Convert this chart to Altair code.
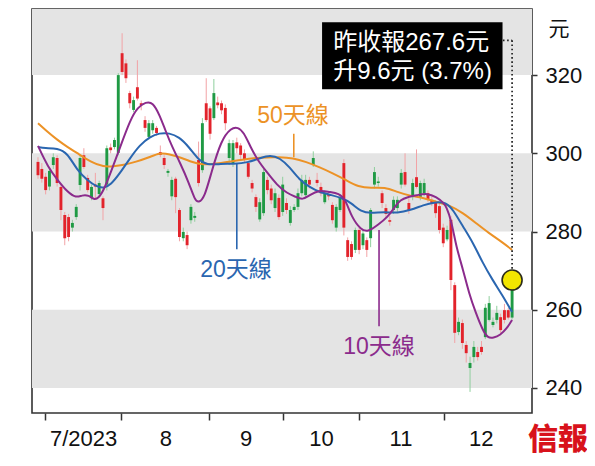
import altair as alt
import pandas as pd

# ---------------- data ----------------
opens = [297.8, 296, 294, 291.5, 297, 298.8, 291.4, 284.2, 283.7, 281, 283.7, 291.9, 299.5, 293.7, 288.8, 292, 289.6, 288.5, 292, 301.5,
         301.6, 300.1, 325.6, 323, 315.4, 311.1, 316.9, 312.8, 308.5, 304.2, 305.9, 306.5, 300.3, 298.8, 295, 289, 293.5, 285.5, 278.3, 279.1,
         282.9, 283.5, 298.3, 295.7, 312.8, 311.5, 309, 313, 312.8, 311.6, 298.8, 297.5, 302.8, 302, 300, 297.5, 292.4, 288.8, 283.1, 284.7,
         293.2, 291, 286, 288.6, 285, 287.3, 282.2, 285.5, 286.3, 289.8, 289.3, 293.2, 297, 293.2, 291.4, 287.5, 289.3, 286.8, 281, 285.5,
         297.5, 277.8, 276.8, 275.3, 280.4, 276.5, 277.8, 278.3, 292, 292.4, 289.8, 286, 282.9, 285.5, 286, 292, 295.2, 287.3, 288.8, 293.9,
         288.8, 289.8, 289.8, 288.1, 287.3, 286.5, 281, 278, 283, 266.3, 254.3, 256.6, 251, 245.1, 247.9, 249.2, 250.5, 253, 257.4, 256.1,
         257.4, 258.1, 259.9, 259.9, 258]
closes = [294.4, 293.5, 290.6, 295.5, 299, 292.4, 285.5, 278.3, 278.6, 282.2, 286.3, 298.8, 296.5, 290.6, 291.4, 291.5, 292.4, 286, 301.3, 300.8,
          303.4, 320, 320.8, 319.2, 312.8, 313.6, 314, 312.3, 306.5, 307.7, 307.7, 305.2, 299.6, 297, 295.5, 293.2, 288.8, 278.6, 279.9, 276.5,
          286.3, 284, 292.4, 307.7, 308.5, 305, 315.4, 312.3, 311, 307.7, 302.6, 302.6, 301.3, 299.6, 298.3, 294, 291, 286.3, 287.5, 295.2,
          290.6, 288, 289.8, 283.7, 292, 285.5, 285.5, 286.3, 289.8, 293.2, 293.2, 292, 298.8, 292.4, 289.8, 289.8, 289, 282.9, 286.3, 288.8,
          281, 273.5, 273.5, 280.4, 275.3, 279.5, 275.3, 285.5, 295.2, 292.8, 287.3, 284.5, 282.5, 288.1, 288.1, 295, 292, 285.5, 292.4, 291.4,
          292.4, 292.4, 288.1, 287.3, 284.7, 280.4, 277, 280.4, 267.6, 254.1, 256.9, 251.5, 248.9, 246.4, 250.5, 247.9, 249.2, 260.5, 261.7, 256.9,
          259.2, 254.8, 257.4, 258, 267.6]
highs = [299, 297.5, 295, 296.5, 300, 299.5, 292, 285, 284.5, 283, 287, 299.5, 301.3, 294.5, 292, 295, 293, 289, 302, 302.5,
         304, 320.5, 330.7, 324, 316, 314.5, 323.8, 313.5, 309.5, 308.5, 308.5, 307, 302, 299.5, 296, 294, 294, 286, 281, 280,
         287, 285, 303, 309, 319.2, 312, 319, 314.5, 313.5, 312.5, 303.5, 303.4, 304, 302.6, 301, 298, 293.2, 289.5, 288.5, 296,
         294, 292, 291, 289.5, 294, 288.5, 286.5, 287, 291, 294.5, 294.5, 294, 300.5, 295, 292.5, 290.5, 290, 287.5, 287, 289.5,
         298.5, 278.5, 277.5, 281, 281, 280.5, 278.5, 286, 296.5, 294, 290.5, 287, 284, 289, 289, 296, 300, 288.5, 293.5, 301,
         293, 293.5, 290.5, 289, 288, 287.5, 282, 281.5, 284, 267, 258, 257.5, 252, 248, 252, 250.5, 252, 261.5, 263.5, 258,
         261, 259, 261.5, 260.5, 268.9]
lows = [293.5, 292.5, 289.5, 290.5, 296, 291.5, 282.9, 276.5, 277.5, 280, 283, 290.5, 296, 290, 288, 288.5, 289, 282.9, 290.5, 300,
        301, 299.5, 320, 318, 311.5, 310.5, 313.5, 311, 305.5, 303.5, 305, 304.5, 299, 296, 294, 288, 284.7, 277.5, 277.5, 275.5,
        282, 282.5, 291.5, 295, 308, 303.5, 308.5, 311.5, 310, 305.9, 297, 296.5, 300, 298.5, 297.5, 293.5, 290, 285, 282.5, 284,
        289.5, 287, 285, 283, 284, 284.5, 281.5, 285, 285.5, 289, 288.5, 291, 296.5, 291.5, 289, 287, 288, 282, 280, 285,
        279, 272.5, 272.8, 274.5, 274.2, 275.5, 273.5, 276, 291, 291.5, 286, 283.5, 281.5, 284.5, 285, 291, 291.5, 284.5, 288, 291,
        288, 289, 287.5, 286.5, 283.5, 279.5, 276, 277.5, 265, 251.5, 253.5, 250, 246.5, 239, 246.5, 247, 248.5, 252.5, 257, 255.5,
        256.5, 254, 256.5, 257.5, 257.5]

# moving averages (day index, price)
ma10_i = [0, 2.6, 5.1, 7.7, 10.0, 11.5, 13.3, 14.6, 15.9, 17.2, 19.0, 21.5, 24.1, 26.1, 28.2, 30.0, 31.8, 33.3, 35.1, 37.2,
          39.5, 41.0, 42.0, 43.6, 45.3, 47.9, 50.5, 52.3, 53.8, 55.6, 57.4, 60.0, 62.5, 65.1, 67.6, 69.2, 71.0, 73.5, 76.1, 78.7,
          80.5, 82.0, 84.5, 86.3, 88.9, 91.5, 93.3, 94.8, 96.6, 99.2, 101.7, 104.3, 106.1, 106.8, 108.1, 109.4, 111.2, 112.7, 114.5, 116.3,
          117.6, 119.1, 120.9, 122.7, 124.0]
ma10_v = [301.9, 296.5, 293.2, 290.1, 288.6, 289.3, 289.3, 288.1, 288.6, 290.6, 295.0, 301.6, 308.5, 311.8, 313.1, 313.1, 309.8, 305.9, 301.6, 297.5,
          292.4, 288.1, 287.3, 288.8, 295.0, 303.4, 306.5, 306.7, 305.4, 301.6, 298.3, 295.0, 291.9, 289.8, 288.8, 288.1, 289.3, 290.6, 290.1, 289.8,
          288.1, 283.7, 280.4, 279.9, 281.7, 283.7, 286.3, 288.1, 288.8, 289.3, 289.8, 288.8, 287.3, 286.3, 282.9, 276.0, 270.2, 264.3, 259.2, 254.8,
          252.8, 252.8, 253.5, 255.3, 257.4]
ma20_i = [0, 1.8, 5.1, 7.7, 10.2, 12.8, 15.4, 17.2, 19.0, 21.5, 24.1, 26.6, 29.2, 31.8, 34.3, 36.9, 39.5, 42.0, 44.1, 47.9,
          51.2, 54.8, 58.2, 60.7, 63.3, 65.8, 68.4, 71.0, 73.5, 76.9, 79.4, 82.0, 84.5, 87.1, 90.7, 94.0, 97.4, 100.9, 103.5, 106.8,
          108.6, 111.2, 113.8, 116.3, 118.9, 121.4, 124.0]
ma20_v = [301.6, 301.3, 301.3, 300.1, 295.7, 293.2, 291.4, 291.1, 291.9, 295.0, 298.8, 302.1, 304.2, 305.2, 305.2, 304.2, 301.6, 298.3, 297.0, 297.3,
          297.3, 297.6, 298.8, 299.6, 298.8, 296.5, 293.2, 291.4, 290.1, 289.3, 288.6, 287.3, 285.0, 284.7, 285.0, 284.7, 285.5, 286.8, 287.5, 287.5,
          285.5, 281.2, 277.1, 272.0, 267.6, 263.8, 259.4]
ma50_i = [0, 2.6, 5.1, 7.7, 10.2, 13.8, 17.2, 19.7, 22.3, 25.6, 29.2, 31.8, 34.3, 37.7, 40.2, 42.8, 47.9, 53.0, 58.2, 63.3,
          66.6, 70.2, 73.5, 76.9, 80.5, 83.8, 87.1, 90.7, 94.0, 97.4, 100.9, 104.3, 107.6, 111.2, 114.5, 117.9, 121.4, 124.0]
ma50_v = [307.7, 305.4, 303.4, 301.6, 300.1, 297.8, 296.5, 296.7, 297.0, 297.8, 299.0, 300.1, 299.8, 298.8, 297.8, 297.0, 297.5, 298.3, 299.0, 299.0,
          298.8, 297.8, 296.5, 295.0, 293.2, 291.4, 291.1, 291.4, 290.1, 289.1, 288.6, 287.5, 286.8, 284.7, 282.2, 279.6, 277.3, 275.3]

month_ticks = [1.8, 21.8, 44.8, 64.05, 84.0, 106.1]
month_label_pos = [11.8, 33.3, 54.3, 74.0, 94.8, 115.8]
month_names = ["7/2023", "8", "9", "10", "11", "12"]
y_ticks = [240, 260, 280, 300, 320]
band_lo = [240, 280, 320]
band_hi = [260, 300, 336.9]

ma_label_text = ["50天線", "20天線", "10天線"]
ma_label_i = [66.7, 51.8, 89.2]
ma_label_p = [309.5, 270.2, 250.5]
leader_i = [66.9, 52.0, 89.2]
leader_p1 = [305.0, 297.5, 280.4]
leader_p2 = [299.0, 275.5, 255.8]

note_lines = ["昨收報267.6元", "升9.6元 (3.7%)"]

# ---------------- styling ----------------
FONT = "Liberation Sans, Arial, Noto Sans CJK TC, sans-serif"
GREEN, RED = "#1f9a44", "#e2232b"
GREEN_W, RED_W = "#8fcf9d", "#f2a3a6"
ORANGE, BLUE, PURPLE = "#ec9226", "#2a66b0", "#8b2b8c"
LABEL_COLORS = [ORANGE, BLUE, PURPLE]
W, H = 500, 404

df = pd.DataFrame({"i": list(range(len(closes))), "open": opens, "high": highs, "low": lows, "close": closes})
bands = pd.DataFrame({"lo": band_lo, "hi": band_hi})

xscale = alt.Scale(domain=[-0.26, 127.9], nice=False, zero=False)
yscale = alt.Scale(domain=[233.6, 336.9], nice=False, zero=False)
up = "datum.close >= datum.open"

label_expr = " : ".join(f"datum.value == {v} ? '{t}'" for v, t in zip(month_label_pos, month_names)) + " : ''"

y_axis = alt.Axis(orient="right", values=y_ticks, tickSize=5, tickWidth=1.5, tickColor="#333",
                  labelPadding=8, domain=False, grid=False, labelFontSize=22, labelFont=FONT,
                  labelColor="#111", title="元", titleAngle=0, titleFontSize=21, titleFont=FONT,
                  titleFontWeight="normal", titleColor="#111", titleX=16, titleY=20,
                  titleAlign="left", titleBaseline="middle")

band_layer = alt.Chart(bands).mark_rect(color="#e4e4e4").encode(
    y=alt.Y("lo:Q", scale=yscale, axis=y_axis), y2="hi:Q")

wicks = alt.Chart(df).mark_rule(strokeWidth=1).encode(
    x=alt.X("i:Q", scale=xscale,
            axis=alt.Axis(orient="bottom", values=month_ticks, labels=False, tickSize=7, tickWidth=1.5,
                          tickColor="#333", domain=False, grid=False, title=None)),
    y=alt.Y("low:Q", scale=yscale), y2="high:Q",
    color=alt.condition(up, alt.value(GREEN_W), alt.value(RED_W)))

bodies = alt.Chart(df).mark_bar(size=2.9).encode(
    x=alt.X("i:Q", scale=xscale,
            axis=alt.Axis(orient="bottom", values=month_label_pos, labelExpr=label_expr, ticks=False,
                          domain=False, grid=False, labelFontSize=22, labelFont=FONT, labelColor="#111",
                          labelPadding=15, labelOverlap=False, labelFlush=False, title=None)),
    y=alt.Y("open:Q", scale=yscale), y2="close:Q",
    color=alt.condition(up, alt.value(GREEN), alt.value(RED)))


def ma_line(ii, vv, color):
    return alt.Chart(pd.DataFrame({"i": ii, "v": vv})).mark_line(
        color=color, strokeWidth=2, interpolate="basis").encode(
        x=alt.X("i:Q", scale=xscale, axis=None), y=alt.Y("v:Q", scale=yscale))


lines = [ma_line(ma50_i, ma50_v, ORANGE), ma_line(ma20_i, ma20_v, BLUE), ma_line(ma10_i, ma10_v, PURPLE)]

leaders = alt.Chart(pd.DataFrame({"i": leader_i, "p1": leader_p1, "p2": leader_p2, "c": LABEL_COLORS})).mark_rule(
    strokeWidth=1.6).encode(x=alt.X("i:Q", scale=xscale, axis=None), y=alt.Y("p1:Q", scale=yscale), y2="p2:Q",
                            color=alt.Color("c:N", scale=None))

ma_labels = alt.Chart(pd.DataFrame({"i": ma_label_i, "p": ma_label_p, "t": ma_label_text, "c": LABEL_COLORS})).mark_text(
    fontSize=23, font=FONT, align="center", baseline="middle").encode(
    x=alt.X("i:Q", scale=xscale, axis=None), y=alt.Y("p:Q", scale=yscale), text="t:N",
    color=alt.Color("c:N", scale=None))

# annotation box with last close
box = alt.Chart(pd.DataFrame({"x1": [74.3], "x2": [121.5], "y1": [316.4], "y2": [333.5]})).mark_rect(color="black").encode(
    x=alt.X("x1:Q", scale=xscale, axis=None), x2="x2:Q", y=alt.Y("y1:Q", scale=yscale), y2="y2:Q")
box_text = alt.Chart(pd.DataFrame({"i": [77.2, 77.2], "p": [328.3, 320.7], "t": note_lines})).mark_text(
    fontSize=24, font=FONT, align="left", baseline="middle", color="white").encode(
    x=alt.X("i:Q", scale=xscale, axis=None), y=alt.Y("p:Q", scale=yscale), text="t:N")

last_i = len(closes) - 1
dot_v = alt.Chart(pd.DataFrame({"i": [last_i], "p1": [closes[-1] + 2.9], "p2": [328.9]})).mark_rule(
    strokeDash=[1.6, 2.6], strokeWidth=1.7, color="#222").encode(
    x=alt.X("i:Q", scale=xscale, axis=None), y=alt.Y("p1:Q", scale=yscale), y2="p2:Q")
dot_h = alt.Chart(pd.DataFrame({"i1": [121.6], "i2": [last_i], "p": [328.9]})).mark_rule(
    strokeDash=[1.6, 2.6], strokeWidth=1.7, color="#222").encode(
    x=alt.X("i1:Q", scale=xscale, axis=None), x2="i2:Q", y=alt.Y("p:Q", scale=yscale))

marker = alt.Chart(pd.DataFrame({"i": [last_i], "p": [closes[-1]]})).mark_circle(
    size=400, color="#f2e600", opacity=1, stroke="#2b2b1a", strokeWidth=1.6).encode(
    x=alt.X("i:Q", scale=xscale, axis=None), y=alt.Y("p:Q", scale=yscale))

chart = alt.layer(
    band_layer, wicks, bodies, *lines, leaders, ma_labels, box, box_text, dot_v, dot_h, marker
).resolve_axis(x="independent").properties(
    width=W, height=H,
    padding={"left": 24, "top": 1, "right": 55, "bottom": 50},
    autosize=alt.AutoSizeParams(type="none"),
    background="white",
    title=alt.TitleParams("信報", orient="bottom", anchor="end", frame="group", align="left",
                          dx=-4, dy=-28, fontSize=30, font="Noto Sans CJK TC", fontWeight=900,
                          color="#d8121b", baseline="top"),
).configure_view(stroke="#333", strokeWidth=1.6)

chart.save("out.html", embed_options={"renderer": "svg", "actions": False})
